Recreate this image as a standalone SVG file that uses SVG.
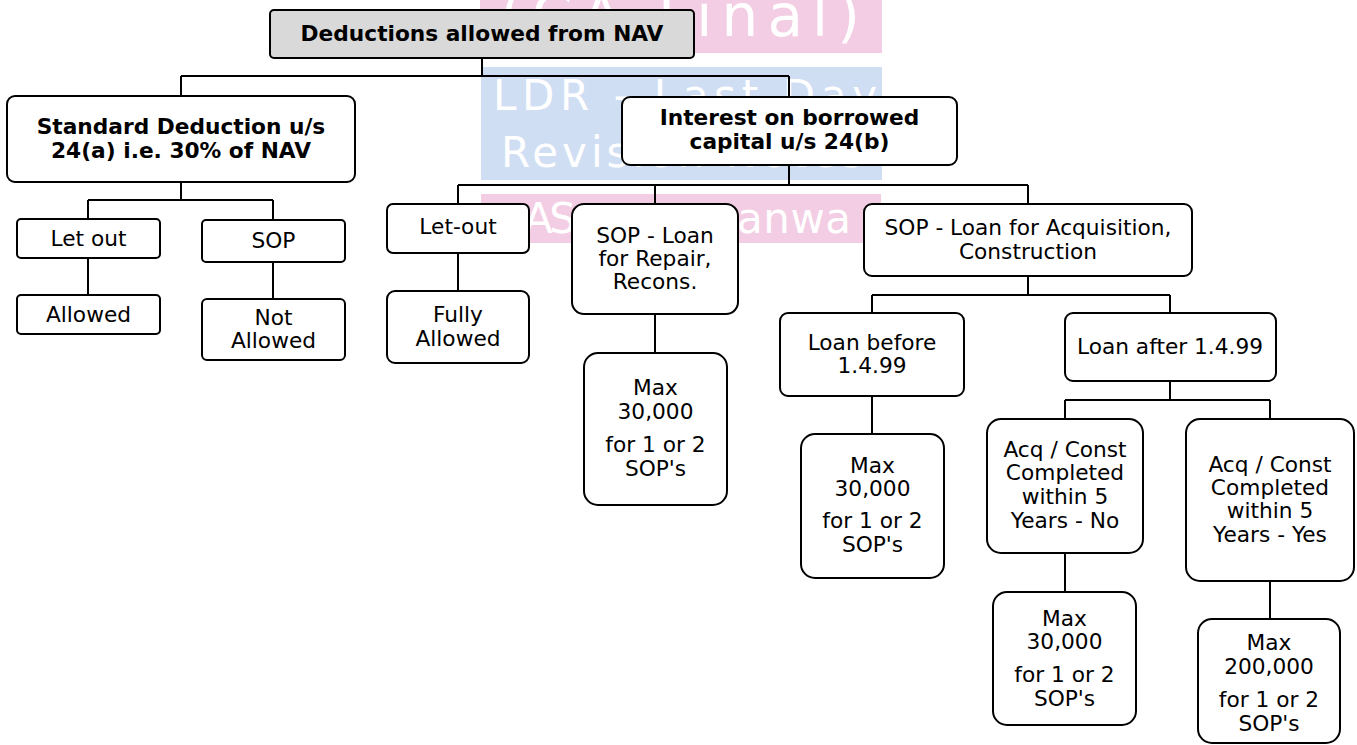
<svg xmlns="http://www.w3.org/2000/svg" width="1357" height="745" viewBox="0 0 1357 745">
<style>
.bg{fill:#fff}
.box{fill:#fff;stroke:#000;stroke-width:2}
.root{fill:#d9d9d9}
.t{font-family:"DejaVu Sans",Verdana,sans-serif;font-size:21.7px;text-anchor:middle;fill:#000}
.b{font-weight:bold;font-size:21.7px}
.conn{stroke:#000;stroke-width:2;fill:none}
.pink{fill:#f3cde3}
.blue{fill:#d0def3}
.wm{fill:#fff;font-family:"DejaVu Sans",sans-serif}
</style>
<rect class="bg" x="0" y="0" width="1357" height="745"/>
<g id="watermark">
<rect class="pink" x="480" y="0" width="402" height="53"/>
<rect class="blue" x="481" y="67" width="401" height="113"/>
<rect class="pink" x="481" y="194" width="400" height="49"/>
<text class="wm" x="500" y="36" font-size="58" textLength="360" lengthAdjust="spacing">(CA Final)</text>
<text class="wm" x="493" y="110" font-size="42" textLength="384" lengthAdjust="spacing">LDR - Last Day</text>
<text class="wm" x="501" y="167" font-size="42" textLength="362" lengthAdjust="spacing">Revision Notes</text>
<text class="wm" x="524" y="233" font-size="42" textLength="52" lengthAdjust="spacing">A S</text>
<text class="wm" x="737" y="233" font-size="42" textLength="114" lengthAdjust="spacing">anwa</text>
</g>
<g id="connectors">
<path class="conn" d="M482 58V76M181 76H789M181 76V96M789 76V97"/>
<path class="conn" d="M181 182V200M88 200H273M88 200V219M273 200V220M88 258V295M273 262V299"/>
<path class="conn" d="M789 165V185M458 185H1028M458 185V204M655 185V204M1028 185V204M458 253V291M655 314V353"/>
<path class="conn" d="M1028 276V295M872 295H1170M872 295V313M1170 295V313M872 396V434"/>
<path class="conn" d="M1170 381V400M1065 400H1270M1065 400V419M1270 400V419M1065 553V592M1270 581V619"/>
</g>
<g id="n-root"><rect class="box root" x="270" y="10" width="424" height="48" rx="4"/><text class="t b" x="482" y="41">Deductions allowed from NAV</text></g>
<g id="n-std"><rect class="box" x="7" y="96" width="348" height="86" rx="8"/><text class="t b" x="181" y="134">Standard Deduction u/s</text><text class="t b" x="181" y="158">24(a) i.e. 30% of NAV</text></g>
<g id="n-int"><rect class="box" x="622" y="97" width="335" height="68" rx="8"/><text class="t b" x="789.5" y="125">Interest on borrowed</text><text class="t b" x="789.5" y="149">capital u/s 24(b)</text></g>
<g id="n-letout1"><rect class="box" x="17" y="219" width="143" height="39" rx="4"/><text class="t" x="88.5" y="246">Let out</text></g>
<g id="n-sop1"><rect class="box" x="202" y="220" width="143" height="42" rx="4"/><text class="t" x="273.5" y="248">SOP</text></g>
<g id="n-allowed"><rect class="box" x="17" y="295" width="143" height="39" rx="4"/><text class="t" x="88.5" y="322">Allowed</text></g>
<g id="n-notallowed"><rect class="box" x="202" y="299" width="143" height="61" rx="5"/><text class="t" x="273.5" y="325">Not</text><text class="t" x="273.5" y="348">Allowed</text></g>
<g id="n-letout2"><rect class="box" x="387" y="204" width="142" height="49" rx="6"/><text class="t" x="458" y="234">Let-out</text></g>
<g id="n-fully"><rect class="box" x="387" y="291" width="142" height="72" rx="8"/><text class="t" x="458" y="322">Fully</text><text class="t" x="458" y="346">Allowed</text></g>
<g id="n-soprep"><rect class="box" x="572" y="204" width="166" height="110" rx="12"/><text class="t" x="655" y="243">SOP - Loan</text><text class="t" x="655" y="266">for Repair,</text><text class="t" x="655" y="289">Recons.</text></g>
<g id="n-max1"><rect class="box" x="584" y="353" width="143" height="152" rx="14"/><text class="t" x="655.5" y="395">Max</text><text class="t" x="655.5" y="419">30,000</text><text class="t" x="655.5" y="452">for 1 or 2</text><text class="t" x="655.5" y="476">SOP's</text></g>
<g id="n-sopacq"><rect class="box" x="864" y="204" width="328" height="72" rx="8"/><text class="t" x="1028" y="235">SOP - Loan for Acquisition,</text><text class="t" x="1028" y="259">Construction</text></g>
<g id="n-before"><rect class="box" x="780" y="313" width="184" height="83" rx="8"/><text class="t" x="872" y="350">Loan before</text><text class="t" x="872" y="373">1.4.99</text></g>
<g id="n-after"><rect class="box" x="1065" y="313" width="211" height="68" rx="8"/><text class="t" x="1170" y="354">Loan after 1.4.99</text></g>
<g id="n-max2"><rect class="box" x="801" y="434" width="143" height="144" rx="14"/><text class="t" x="872.5" y="473">Max</text><text class="t" x="872.5" y="496">30,000</text><text class="t" x="872.5" y="528">for 1 or 2</text><text class="t" x="872.5" y="552">SOP's</text></g>
<g id="n-no"><rect class="box" x="987" y="419" width="156" height="134" rx="14"/><text class="t" x="1065" y="457">Acq / Const</text><text class="t" x="1065" y="480">Completed</text><text class="t" x="1065" y="504">within 5</text><text class="t" x="1065" y="528">Years - No</text></g>
<g id="n-yes"><rect class="box" x="1186" y="419" width="168" height="162" rx="14"/><text class="t" x="1270" y="472">Acq / Const</text><text class="t" x="1270" y="495">Completed</text><text class="t" x="1270" y="518">within 5</text><text class="t" x="1270" y="542">Years - Yes</text></g>
<g id="n-max3"><rect class="box" x="993" y="592" width="143" height="133" rx="14"/><text class="t" x="1064.5" y="626">Max</text><text class="t" x="1064.5" y="649">30,000</text><text class="t" x="1064.5" y="682">for 1 or 2</text><text class="t" x="1064.5" y="706">SOP's</text></g>
<g id="n-max4"><rect class="box" x="1198" y="619" width="142" height="124" rx="14"/><text class="t" x="1269" y="650">Max</text><text class="t" x="1269" y="674">200,000</text><text class="t" x="1269" y="707">for 1 or 2</text><text class="t" x="1269" y="731">SOP's</text></g>
</svg>
